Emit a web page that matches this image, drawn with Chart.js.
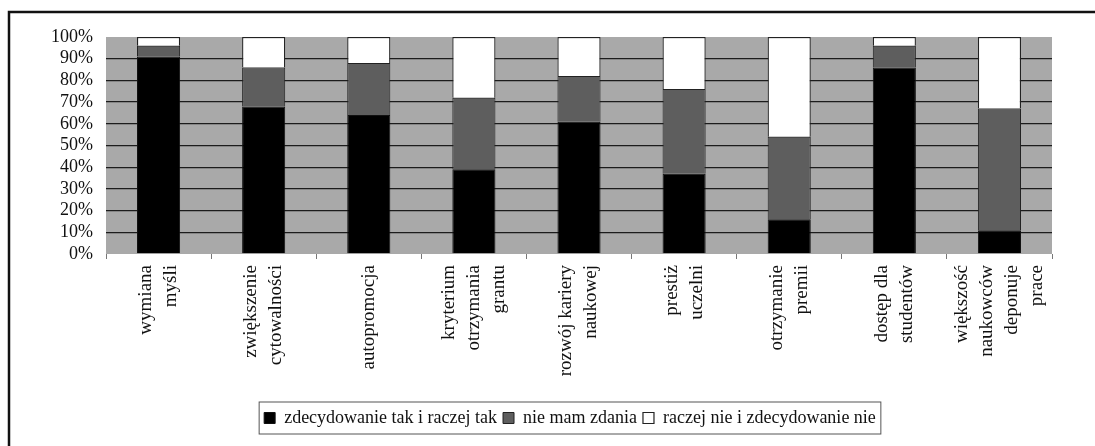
<!DOCTYPE html>
<html>
<head>
  <meta charset="UTF-8">
  <title>Chart</title>
  <style>
    body { margin: 0; background: #fff; }
    #wrap { position: relative; width: 1095px; height: 446px; }
  </style>
  <script src="https://cdn.jsdelivr.net/npm/chart.js@4.4.0/dist/chart.umd.min.js"></script>
</head>
<body>
  <div id="wrap"><canvas id="myChart" width="1095" height="446"></canvas></div>

  <script>
    // categories (already split into lines as in the picture)
    var categories = [
      ["wymiana", "myśli"],
      ["zwiększenie", "cytowalności"],
      ["autopromocja"],
      ["kryterium", "otrzymania", "grantu"],
      ["rozwój kariery", "naukowej"],
      ["prestiż", "uczelni"],
      ["otrzymanie", "premii"],
      ["dostęp dla", "studentów"],
      ["większość", "naukowców", "deponuje", "prace"]
    ];
    var seriesNames = ["zdecydowanie tak i raczej tak", "nie mam zdania", "raczej nie i zdecydowanie nie"];
    var yesValues = [91, 68, 64, 39, 61, 37, 16, 86, 11];
    var neutralValues = [5, 18, 24, 33, 21, 39, 38, 10, 56];
    var noValues = [4, 14, 12, 28, 18, 24, 46, 4, 33];
    var yTicks = [0, 10, 20, 30, 40, 50, 60, 70, 80, 90, 100];

    var serif = "'Liberation Serif', 'Times New Roman', serif";
    var maxLines = 4;
    var halfLine = 12.5;

    // centre the rotated multi-line labels: blank half-lines before and between lines
    function tickLines(index) {
      var lines = categories[index];
      var out = [];
      for (var k = 0; k < maxLines - lines.length; k++) out.push("");
      lines.forEach(function (l, i) {
        if (i > 0) out.push("");
        out.push(l);
      });
      return out;
    }

    var framePlugin = {
      id: "frame",
      afterLayout: function (chart) {
        // legend sits a bit right of the canvas centre
        chart.legend.left += 44;
        chart.legend.right += 44;
      },
      beforeDraw: function (chart) {
        var ctx = chart.ctx, a = chart.chartArea;
        ctx.save();
        ctx.fillStyle = "#a9a9a9";
        ctx.fillRect(a.left, a.top, a.right - a.left, a.bottom - a.top);
        ctx.restore();
      },
      afterDraw: function (chart) {
        var ctx = chart.ctx;
        ctx.save();
        ctx.strokeStyle = "#111";
        ctx.lineWidth = 2.5;
        ctx.beginPath();
        ctx.moveTo(9, 446);
        ctx.lineTo(9, 12);
        ctx.lineTo(1095, 12);
        ctx.stroke();

        // box round the legend
        var hb = chart.legend.legendHitBoxes;
        if (hb && hb.length) {
          var l = Math.min.apply(null, hb.map(function (h) { return h.left; }));
          var r = Math.max.apply(null, hb.map(function (h) { return h.left + h.width; }));
          var t = hb[0].top, h = hb[0].height;
          ctx.strokeStyle = "#555";
          ctx.lineWidth = 1;
          ctx.strokeRect(l - 5, t - 7, r - l + 10, h + 14);
        }
        ctx.restore();
      }
    };

    new Chart("myChart", {
      type: "bar",
      data: {
        labels: categories.map(function (c) { return c.join(" "); }),
        datasets: [{
          label: seriesNames[0],
          data: yesValues,
          backgroundColor: "#000",
          borderColor: "#111",
          borderWidth: 1
        }, {
          label: seriesNames[1],
          data: neutralValues,
          backgroundColor: "#5e5e5e",
          borderColor: "#222",
          borderWidth: 1
        }, {
          label: seriesNames[2],
          data: noValues,
          backgroundColor: "#fff",
          borderColor: "#222",
          borderWidth: 1.2
        }]
      },
      options: {
        responsive: false,
        animation: false,
        devicePixelRatio: 1,
        layout: { padding: { top: 37, right: 43, left: 0, bottom: 9 } },
        datasets: { bar: { categoryPercentage: 1, barPercentage: 0.41 } },
        plugins: {
          tooltip: { enabled: false },
          legend: {
            position: "bottom",
            labels: {
              font: { family: serif, size: 18 },
              color: "#111",
              boxWidth: 11,
              boxHeight: 11,
              padding: 6
            }
          }
        },
        scales: {
          x: {
            stacked: true,
            grid: { offset: true, drawOnChartArea: false, tickLength: 5, color: "#777" },
            border: { display: false },
            ticks: {
              autoSkip: false,
              minRotation: 90,
              maxRotation: 90,
              padding: 6,
              labelOffset: -(maxLines - 1) * halfLine,
              color: "#111",
              font: { family: serif, size: 19, lineHeight: halfLine + "px" },
              callback: function (value, index) { return tickLines(index); }
            },
            afterFit: function (scale) {
              scale.height = 149;
              scale.paddingLeft = 0;
              scale.paddingRight = 0;
            }
          },
          y: {
            stacked: true,
            min: 0,
            max: 100,
            afterBuildTicks: function (scale) {
              scale.ticks = yTicks.map(function (v) { return { value: v }; });
            },
            grid: {
              drawTicks: false,
              lineWidth: 1.3,
              color: function (ctx) {
                var v = ctx.tick ? ctx.tick.value : 0;
                return (v === 0 || v === 100) ? "rgba(0,0,0,0)" : "#1c1c1c";
              }
            },
            border: { display: false },
            ticks: {
              autoSkip: false,
              padding: 13,
              color: "#111",
              font: { family: serif, size: 18 },
              callback: function (v) { return v + "%"; }
            },
            afterFit: function (scale) {
              scale.width = 106;
              scale.paddingTop = 0;
              scale.paddingBottom = 0;
            }
          }
        }
      },
      plugins: [framePlugin]
    });
  </script>
</body>
</html>
